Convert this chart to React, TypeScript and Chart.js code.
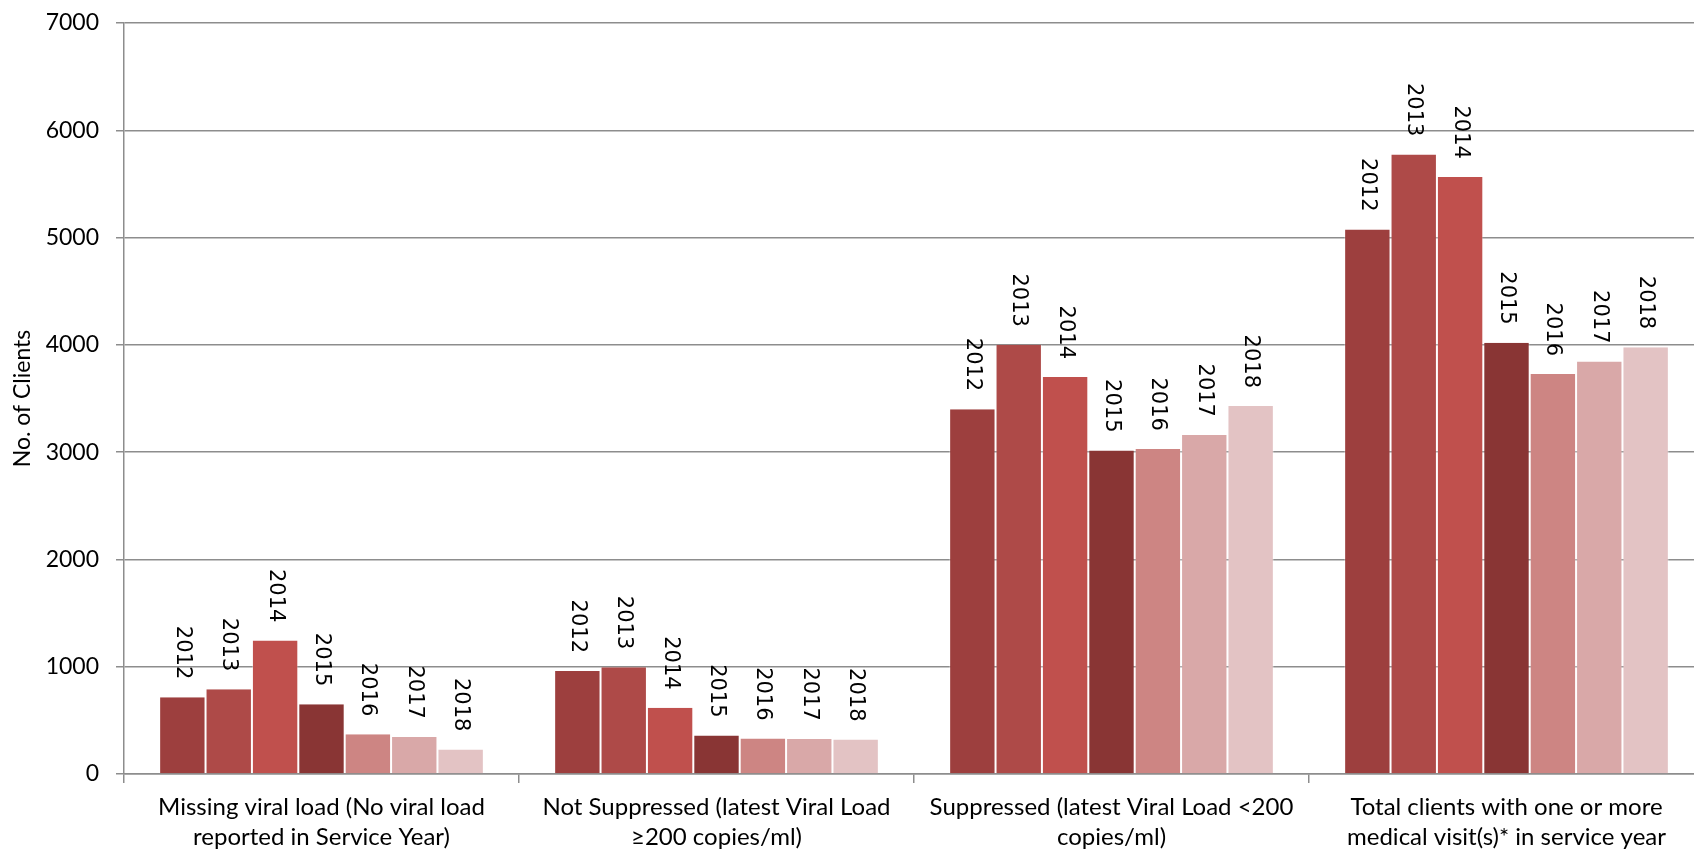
import React, { useEffect, useRef } from "react";
import { Chart, registerables } from "chart.js";

Chart.register(...registerables);

const categories: string[][] = [
  ["Missing viral load (No viral load", "reported in Service Year)"],
  ["Not Suppressed (latest Viral Load", "≥200 copies/ml)"],
  ["Suppressed (latest Viral Load <200", "copies/ml)"],
  ["Total clients with one or more", "medical visit(s)* in service year"],
];

const years = ["2012", "2013", "2014", "2015", "2016", "2017", "2018"];

const values2012 = [715, 960, 3400, 5075];
const values2013 = [790, 995, 4000, 5775];
const values2014 = [1245, 618, 3700, 5565];
const values2015 = [650, 358, 3015, 4020];
const values2016 = [370, 330, 3030, 3728];
const values2017 = [346, 327, 3160, 3845];
const values2018 = [229, 321, 3430, 3978];

const yTicks = [0, 1000, 2000, 3000, 4000, 5000, 6000, 7000];

const seriesValues = [values2012, values2013, values2014, values2015, values2016, values2017, values2018];
const seriesColors = ["#9D3F3E", "#AE4A48", "#C0504D", "#893534", "#CD8583", "#D9A8A8", "#E3C3C4"];

const gridColor = "#8d8d8d";

const barLabelPlugin = {
  id: "barYearLabels",
  afterDatasetsDraw(chart: any) {
    const ctx = chart.ctx;
    ctx.save();
    ctx.font = "21px 'DejaVu Sans'";
    ctx.fillStyle = "#000";
    chart.data.datasets.forEach((ds: any, di: number) => {
      const meta = chart.getDatasetMeta(di);
      meta.data.forEach((bar: any) => {
        ctx.save();
        ctx.translate(bar.x, bar.y - 18);
        ctx.rotate(Math.PI / 2);
        ctx.textAlign = "right";
        ctx.textBaseline = "middle";
        ctx.fillText(ds.label, 0, 0);
        ctx.restore();
      });
    });
    ctx.restore();
  },
};

export default function App() {
  const canvasRef = useRef<HTMLCanvasElement | null>(null);

  useEffect(() => {
    if (!canvasRef.current) return;
    const chart = new Chart(canvasRef.current, {
      type: "bar",
      data: {
        labels: categories,
        datasets: years.map((y, i) => ({
          label: y,
          data: seriesValues[i],
          backgroundColor: seriesColors[i],
          borderColor: "rgba(255,255,255,0.35)",
          borderWidth: { top: 0, left: 1, right: 1, bottom: 0 },
          categoryPercentage: 0.822,
          barPercentage: 1.0,
        })),
      },
      options: {
        responsive: true,
        maintainAspectRatio: false,
        animation: false,
        layout: { padding: { top: 23, right: 6, left: 0, bottom: 0 } },
        plugins: {
          legend: { display: false },
          tooltip: { enabled: false },
        },
        scales: {
          x: {
            afterFit: (scale: any) => {
              scale.height = 81;
              scale.paddingLeft = 0;
              scale.paddingRight = 0;
            },
            grid: {
              display: true,
              offset: true,
              drawOnChartArea: false,
              drawTicks: true,
              tickLength: 9,
              color: gridColor,
              lineWidth: 1.5,
            },
            border: { display: true, color: gridColor, width: 1.5 },
            ticks: {
              color: "#000",
              font: { family: "Lato", size: 24, lineHeight: 1.27 },
              padding: 9,
              maxRotation: 0,
              minRotation: 0,
            },
          },
          y: {
            min: 0,
            max: 7000,
            afterFit: (scale: any) => {
              scale.width = 124;
              scale.paddingTop = 0;
              scale.paddingBottom = 0;
            },
            afterBuildTicks: (scale: any) => {
              scale.ticks = yTicks.map((v) => ({ value: v }));
            },
            grid: {
              color: gridColor,
              lineWidth: 1.5,
              drawTicks: true,
              tickLength: 8,
            },
            border: { display: true, color: gridColor, width: 1.5 },
            ticks: {
              color: "#000",
              font: { family: "Lato", size: 23 },
              padding: 17,
              callback: (v: any) => String(v),
            },
            title: {
              display: true,
              text: "No. of Clients",
              color: "#000",
              font: { family: "Lato", size: 23 },
              padding: { top: 9, bottom: 0 },
            },
          },
        },
      },
      plugins: [barLabelPlugin],
    } as any);
    return () => chart.destroy();
  }, []);

  return (
    <div
      style={{
        position: "fixed",
        left: 0,
        top: 0,
        width: 1694,
        height: 855,
        overflow: "hidden",
        background: "#fff",
      }}
    >
      <div style={{ position: "relative", width: 1710, height: 855 }}>
        <canvas ref={canvasRef} />
      </div>
    </div>
  );
}
